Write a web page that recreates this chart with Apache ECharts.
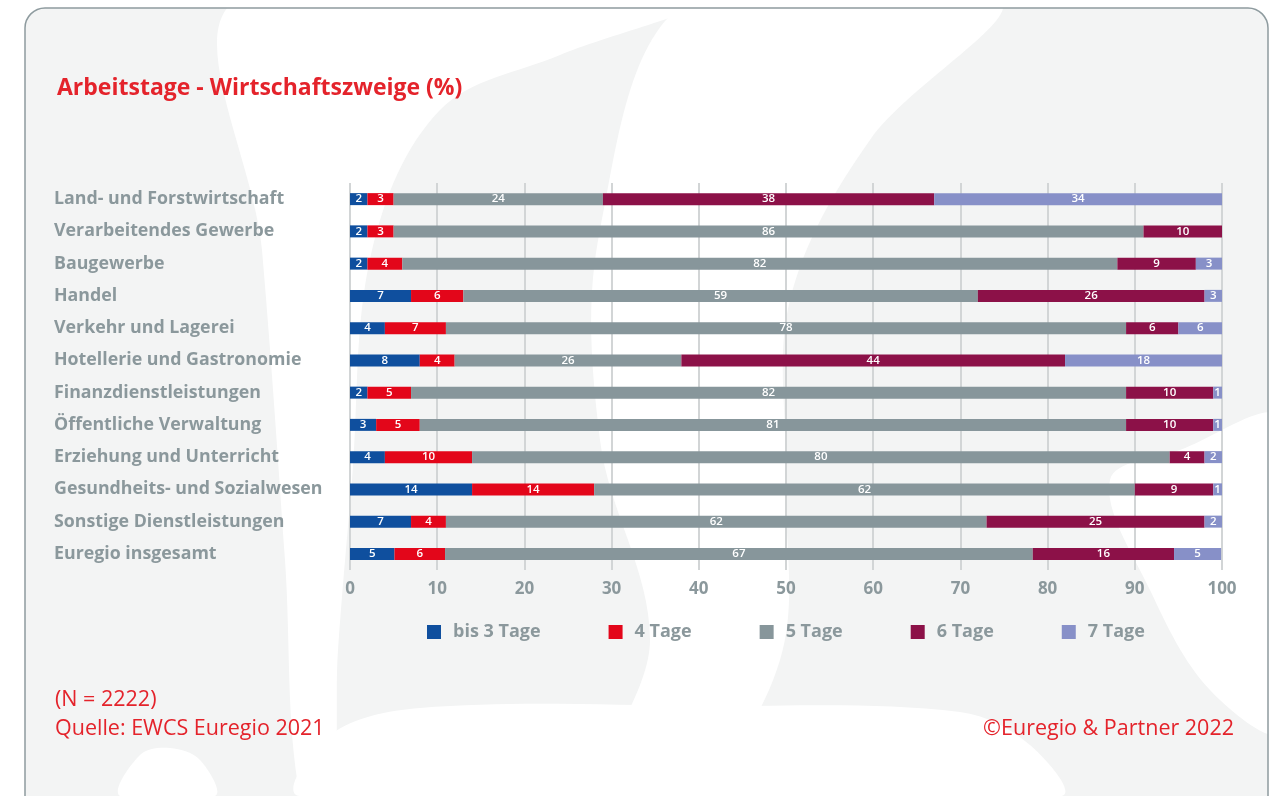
<!DOCTYPE html>
<html>
<head>
<meta charset="utf-8">
<script src="https://cdn.jsdelivr.net/npm/echarts@6/dist/echarts.min.js"></script>
<style>
  html, body { margin: 0; padding: 0; background: #ffffff; }
  #main { width: 1281px; height: 796px; }
</style>
</head>
<body>
<div id="main"></div>
<script>
// Branchen (von oben nach unten)
var categories = [
  "Land- und Forstwirtschaft",
  "Verarbeitendes Gewerbe",
  "Baugewerbe",
  "Handel",
  "Verkehr und Lagerei",
  "Hotellerie und Gastronomie",
  "Finanzdienstleistungen",
  "Öffentliche Verwaltung",
  "Erziehung und Unterricht",
  "Gesundheits- und Sozialwesen",
  "Sonstige Dienstleistungen",
  "Euregio insgesamt"
];

var seriesNames = ["bis 3 Tage", "4 Tage", "5 Tage", "6 Tage", "7 Tage"];

// Anteile in %
var bis3Tage = [2, 2, 2, 7, 4, 8, 2, 3, 4, 14, 7, 5.1];
var vierTage = [3, 3, 4, 6, 7, 4, 5, 5, 10, 14, 4, 5.8];
var fuenfTage = [24, 86, 82, 59, 78, 26, 82, 81, 80, 62, 62, 67.4];
var sechsTage = [38, 10, 9, 26, 6, 44, 10, 10, 4, 9, 25, 16.2];
var siebenTage = [34, 0, 3, 3, 6, 18, 1, 1, 2, 1, 2, 5.4];

var xTicks = [0, 10, 20, 30, 40, 50, 60, 70, 80, 90, 100];

var colors = ["#0f4f9e", "#e3061a", "#87969b", "#8c1148", "#8790c8"];
var greyText = "#8b989c";
var red = "#e4232b";
var font = "Open Sans";

var myChart = echarts.init(document.getElementById("main"));

var values = [bis3Tage, vierTage, fuenfTage, sechsTage, siebenTage];

var series = seriesNames.map(function (name, i) {
  return {
    name: name,
    type: "bar",
    stack: "total",
    barWidth: 12,
    clip: true,
    data: values[i],
    itemStyle: { color: colors[i] },
    label: {
      show: true,
      position: "inside",
      color: "#ffffff",
      fontFamily: font,
      fontSize: 11.5,
      fontWeight: 600,
      formatter: function (p) {
        return p.value ? Math.round(p.value) : "";
      }
    }
  };
});

// weiße Wasserzeichen-Formen im Hintergrund
var blob = function (points) {
  return {
    type: "polygon",
    z: -9,
    silent: true,
    shape: { points: points, smooth: 0.35 },
    style: { fill: "#ffffff" }
  };
};

var footText = function (txt, pos) {
  return Object.assign({
    type: "text",
    style: { text: txt, fill: red, font: "21.5px 'Open Sans'" }
  }, pos);
};

var option = {
  backgroundColor: "#ffffff",
  animation: false,
  title: {
    text: "Arbeitstage - Wirtschaftszweige (%)",
    left: 57,
    top: 77,
    padding: 0,
    textStyle: {
      color: red,
      fontFamily: font,
      fontSize: 23,
      fontWeight: "bold"
    }
  },
  legend: {
    data: seriesNames,
    left: 427,
    top: 623,
    padding: 0,
    icon: "rect",
    itemWidth: 14,
    itemHeight: 14,
    itemGap: 68,
    textStyle: {
      color: greyText,
      fontFamily: font,
      fontSize: 18,
      fontWeight: "bold",
      padding: [0, 0, 0, 7]
    }
  },
  grid: {
    left: 350,
    right: 59,
    top: 183,
    bottom: 226,
    containLabel: false
  },
  xAxis: {
    type: "value",
    min: xTicks[0],
    max: xTicks[xTicks.length - 1],
    interval: 10,
    axisLine: { show: false },
    axisTick: { show: false },
    splitLine: { lineStyle: { color: "#d2d5d6", width: 2 } },
    axisLabel: {
      color: greyText,
      fontFamily: font,
      fontSize: 17,
      fontWeight: "bold",
      margin: 11
    }
  },
  yAxis: {
    type: "category",
    inverse: true,
    data: categories,
    axisLine: { show: false },
    axisTick: { show: false },
    axisLabel: {
      align: "left",
      margin: 296,
      color: greyText,
      fontFamily: font,
      fontSize: 17.8,
      fontWeight: "bold"
    }
  },
  graphic: [
    {
      type: "rect",
      z: -10,
      silent: true,
      shape: { x: 25, y: 8, width: 1243, height: 820, r: 20 },
      style: { fill: "#f3f4f4" }
    },
    blob([[237, 0], [700, 0], [560, 55], [440, 110], [372, 250], [352, 480], [338, 650], [330, 796], [300, 796], [285, 560], [262, 250]]),
    blob([[690, 0], [1000, 0], [870, 140], [790, 300], [786, 480], [780, 660], [690, 796], [600, 796], [650, 640], [600, 440], [600, 230]]),
    blob([[1110, 480], [1150, 590], [1210, 690], [1281, 730], [1281, 420], [1180, 450]]),
    blob([[300, 796], [330, 735], [420, 708], [700, 706], [960, 712], [1030, 745], [1060, 796]]),
    blob([[120, 796], [140, 755], [170, 748], [200, 760], [215, 796]]),
    {
      type: "rect",
      z: -8,
      silent: true,
      shape: { x: 25, y: 8, width: 1243, height: 820, r: 20 },
      style: { fill: "none", stroke: "#8e9b9f", lineWidth: 1.5 }
    },
    footText("(N = 2222)", { left: 55, top: 689 }),
    footText("Quelle: EWCS Euregio 2021", { left: 55, top: 718 }),
    footText("©Euregio & Partner 2022", { right: 47, top: 718 })
  ],
  series: series
};

myChart.setOption(option);
</script>
</body>
</html>
